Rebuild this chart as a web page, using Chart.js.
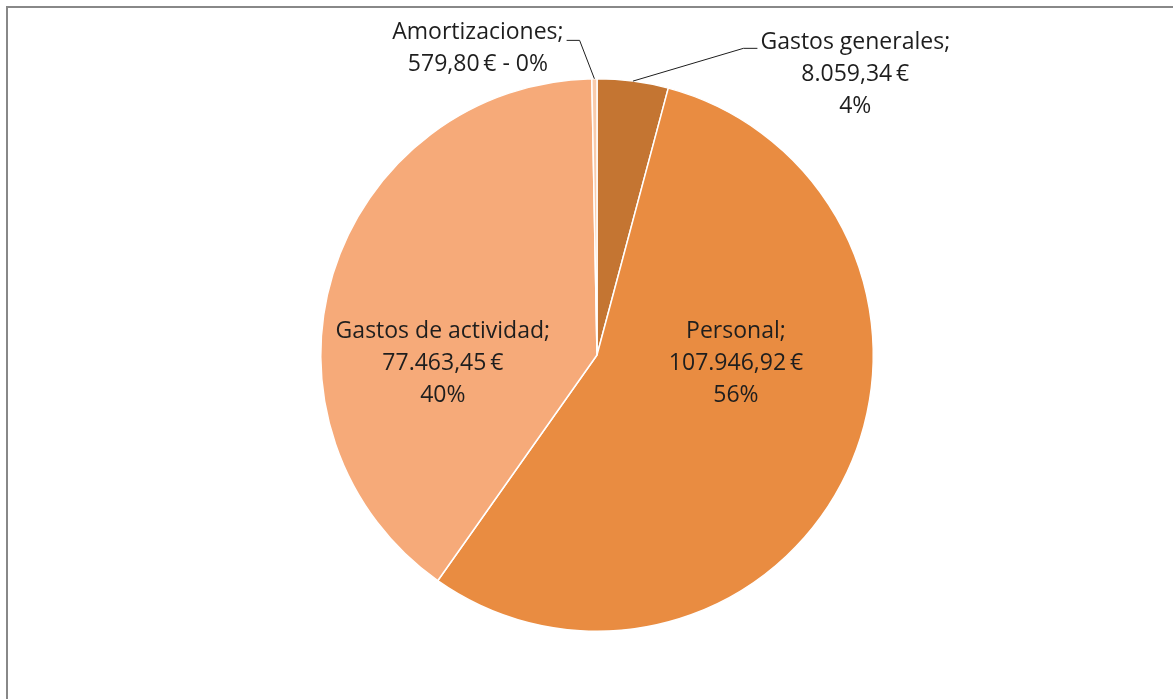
<!DOCTYPE html>
<html>
<head>
<meta charset="utf-8">
<script src="https://cdn.jsdelivr.net/npm/chart.js@4.4.0/dist/chart.umd.min.js"></script>
<style>
    html, body { margin: 0; padding: 0; background: #ffffff; overflow: hidden; }
    .frame {
        position: absolute;
        left: 6px;
        top: 6px;
        width: 1300px;
        height: 800px;
        border-left: 2px solid #888888;
        border-top: 2px solid #888888;
    }
    .chart-box { position: absolute; left: 0; top: 0; width: 1173px; height: 699px; }
</style>
</head>
<body>
<div class="frame"></div>
<div class="chart-box"><canvas id="pieChart"></canvas></div>
<script>
// Chart data
const categories = ['Gastos generales', 'Personal', 'Gastos de actividad', 'Amortizaciones'];
const amounts = [8059.34, 107946.92, 77463.45, 579.80];
const sliceColors = ['#C47532', '#E98C41', '#F6AA79', '#F9CBAB'];

// Label placement (relative to pie centre, in units of radius)
const labelSpots = [
    { dx: 0.935, dy: -1.016, leader: true, lineDy: 6 },
    { dx: 0.503, dy: 0.03 },
    { dx: -0.558, dy: 0.03 },
    { dx: -0.431, dy: -1.11, leader: true, lineDy: 8, oneLine: true }
];

function formatEuro(v) {
    const parts = v.toFixed(2).split('.');
    const intPart = parts[0].replace(/\B(?=(\d{3})+(?!\d))/g, '.');
    return intPart + ',' + parts[1] + '\u2009€';
}

const total = amounts.reduce((a, b) => a + b, 0);

const labelPlugin = {
    id: 'sliceLabels',
    afterDatasetsDraw(chart) {
        const ctx = chart.ctx;
        const arcs = chart.getDatasetMeta(0).data;
        ctx.save();
        ctx.font = '23px "Open Sans", sans-serif';
        ctx.fillStyle = '#1e1e1e';
        ctx.textAlign = 'center';
        ctx.textBaseline = 'middle';
        arcs.forEach((arc, i) => {
            const spot = labelSpots[i];
            const r = arc.outerRadius;
            const cx = arc.x + spot.dx * r;
            const cy = arc.y + spot.dy * r;
            const pct = Math.round(amounts[i] / total * 100) + '%';
            let lines;
            if (spot.oneLine) {
                lines = [categories[i] + ';', formatEuro(amounts[i]) + ' - ' + pct];
            } else {
                lines = [categories[i] + ';', formatEuro(amounts[i]), pct];
            }
            const lh = 32;
            const top = cy - (lines.length - 1) * lh / 2;
            lines.forEach((t, k) => ctx.fillText(t, cx, top + k * lh));

            if (spot.leader) {
                const mid = (arc.startAngle + arc.endAngle) / 2;
                const sx = arc.x + Math.cos(mid) * r;
                const sy = arc.y + Math.sin(mid) * r;
                const w = ctx.measureText(lines[0]).width;
                const lineY = top + spot.lineDy;
                let endX, elbowX;
                if (spot.dx > 0) {
                    endX = cx - w / 2 - 3;
                    elbowX = endX - 14;
                } else {
                    endX = cx + w / 2 + 3;
                    elbowX = endX + 13;
                }
                ctx.beginPath();
                ctx.strokeStyle = '#1e1e1e';
                ctx.lineWidth = 1;
                ctx.moveTo(sx, sy);
                ctx.lineTo(elbowX, lineY);
                ctx.lineTo(endX, lineY);
                ctx.stroke();
            }
        });
        ctx.restore();
    }
};

function initializePieChart() {
    const ctx = document.getElementById('pieChart').getContext('2d');
    new Chart(ctx, {
        type: 'pie',
        data: {
            labels: categories,
            datasets: [{
                data: amounts,
                backgroundColor: sliceColors,
                borderColor: '#ffffff',
                borderWidth: 1.5
            }]
        },
        options: {
            responsive: true,
            maintainAspectRatio: false,
            animation: false,
            layout: {
                padding: { top: 78, bottom: 67, left: 100, right: 79 }
            },
            plugins: {
                legend: { display: false },
                tooltip: { enabled: false }
            }
        },
        plugins: [labelPlugin]
    });
}

document.addEventListener('DOMContentLoaded', initializePieChart);
</script>
</body>
</html>
